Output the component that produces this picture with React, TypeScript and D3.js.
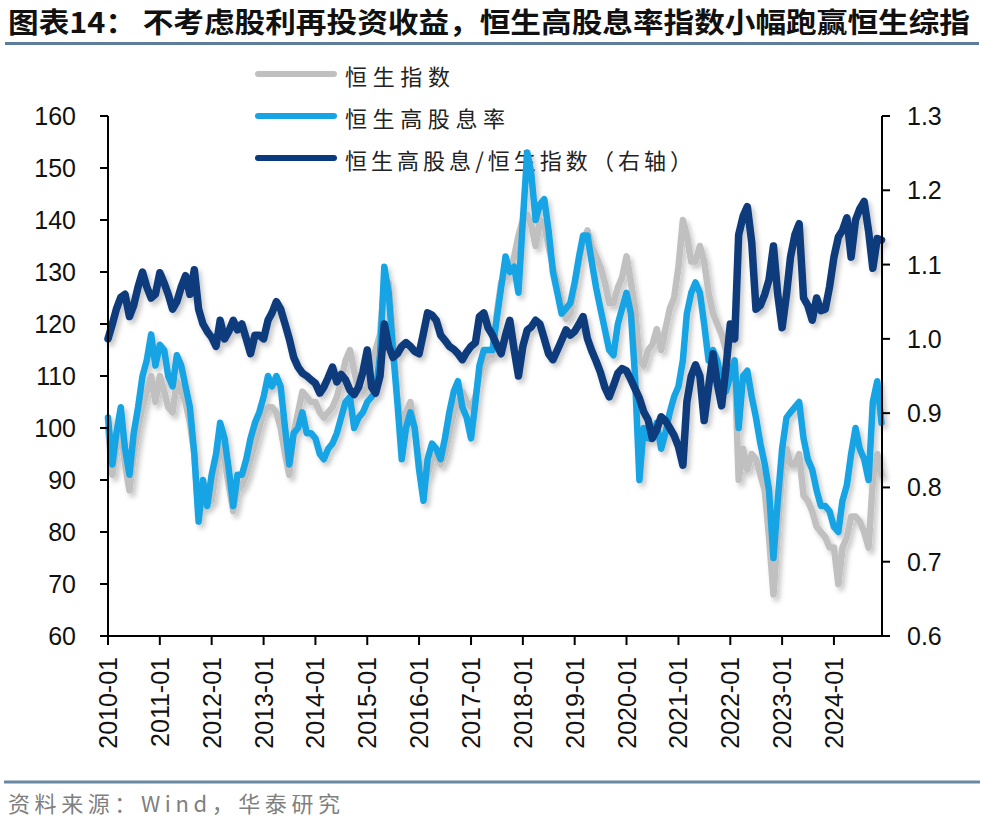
import React from "react";
import * as d3 from "d3";

// ---- data (monthly, 2010-01 .. 2024-12) ----
const firstMonth = new Date(2010, 0, 1);
const lastMonthExclusive = new Date(2025, 0, 1);

const hsiIndex = [
  100, 91, 96, 100, 93, 88, 95, 100, 104, 107, 110, 105,
  110, 107, 104, 103, 109, 107, 105, 101, 95, 83, 86, 87,
  86, 92, 97, 94, 89, 84, 88, 89, 91, 94, 97, 100,
  103, 104, 104, 103, 100, 95, 91, 99, 103, 107, 106, 105,
  105, 103, 102, 103, 104, 106, 109, 113, 115, 111, 107, 107,
  108, 112, 115, 118, 128, 128, 118, 106, 100, 103, 105, 100,
  94, 89, 91, 94, 95, 93, 95, 99, 103, 105, 107, 105,
  104, 106, 110, 113, 114, 114, 122, 128, 129, 130, 133, 137,
  140, 141, 139, 135, 140, 139, 135, 131, 128, 124, 121, 122,
  127, 132, 136, 138, 135, 133, 131, 128, 124, 124, 127, 129,
  133, 128, 123, 113, 112, 115, 116, 119, 115, 119, 123, 125,
  131, 140, 137, 132, 132, 135, 132, 126, 122, 120, 118, 115,
  112, 112, 90, 96, 92, 95, 94, 91, 88, 79, 68, 80,
  92, 96, 93, 93, 95, 87, 86, 84, 81, 80, 79, 77,
  77, 70, 77, 79, 83, 83, 82, 80, 77, 90, 95, 91,
];

const hsHighDividend = [
  102, 93, 99, 104, 96, 91, 99, 104, 110, 113, 118, 112,
  116, 115, 110, 108, 114, 112, 108, 104, 95, 82, 90, 85,
  91, 95, 101, 98, 92, 85, 91, 91, 94, 98, 101, 103,
  106, 110, 108, 110, 108, 100, 93, 99, 100, 103, 99, 99,
  98, 95, 94, 96, 97, 99, 102, 105, 106, 100, 102, 103,
  105, 106, 107, 114, 131, 126, 115, 105, 94, 100, 103, 100,
  92, 86, 94, 97, 96, 94, 98, 103, 107, 109, 104, 102,
  98, 105, 112, 115, 115, 115, 121, 127, 133, 130, 131, 126,
  140, 153, 149, 140, 143, 144, 138, 130, 126, 122, 123, 124,
  128, 133, 137, 137, 132, 127, 123, 119, 115, 114, 120, 123,
  126, 122, 110, 90, 100, 98, 98, 101, 96, 99, 103, 106,
  108, 113, 122, 126, 128, 126, 120, 113, 115, 113, 109, 107,
  110, 113, 100, 110, 111, 106, 102, 97, 93, 88, 75, 86,
  96, 102, 103, 104, 105, 98, 94, 92, 88, 85, 85, 84,
  81, 80, 86, 89, 95, 100, 96, 94, 90, 105, 109, 101,
];

const ratioRight = [
  1.0, 1.02, 1.04, 1.056, 1.06, 1.03, 1.045, 1.07, 1.09, 1.07, 1.055, 1.06,
  1.089, 1.075, 1.06, 1.04, 1.05, 1.07, 1.085, 1.06, 1.093, 1.04, 1.02, 1.01,
  1.002, 0.99, 1.025, 1.0, 1.01, 1.025, 1.012, 1.02, 1.0, 0.98, 1.005, 1.005,
  1.0, 1.025, 1.035, 1.05, 1.04, 1.02, 1.0, 0.975, 0.962, 0.954, 0.95, 0.945,
  0.94, 0.927, 0.935, 0.948, 0.962, 0.942, 0.952, 0.945, 0.931, 0.925, 0.935, 0.955,
  0.985, 0.935, 0.927, 0.95, 1.02, 0.99, 0.975, 0.98, 0.99, 0.995, 0.99, 0.983,
  0.98, 1.008, 1.035, 1.032, 1.025, 1.005, 0.998, 0.99, 0.986, 0.98, 0.972, 0.982,
  0.99, 0.995, 1.03, 1.035, 1.015, 1.005, 0.992, 0.98, 1.005, 1.025, 0.985, 0.95,
  0.99, 1.012, 1.016, 1.025, 1.02, 1.0, 0.98, 0.972, 0.985, 0.998, 1.012, 1.005,
  1.01, 1.02, 1.03, 1.0, 0.984, 0.97, 0.955, 0.935, 0.922, 0.937, 0.954, 0.96,
  0.957, 0.945, 0.933, 0.92, 0.902, 0.891, 0.866, 0.878, 0.895, 0.89, 0.88, 0.87,
  0.855, 0.83, 0.915, 0.95, 0.965, 0.95, 0.89, 0.935, 0.98, 0.94, 0.91, 0.96,
  1.02, 1.0, 1.14, 1.165, 1.178, 1.13, 1.04, 1.045, 1.06, 1.08, 1.125, 1.06,
  1.015, 1.06, 1.11, 1.14, 1.155, 1.055, 1.045, 1.025, 1.055, 1.038, 1.04, 1.07,
  1.11, 1.137, 1.146, 1.163, 1.11, 1.16, 1.175, 1.185, 1.145, 1.095, 1.135, 1.133,
];

const xTickLabels = [
  "2010-01", "2011-01", "2012-01", "2013-01", "2014-01", "2015-01", "2016-01", "2017-01",
  "2018-01", "2019-01", "2020-01", "2021-01", "2022-01", "2023-01", "2024-01",
];
const leftTicks = [60, 70, 80, 90, 100, 110, 120, 130, 140, 150, 160];
const rightTicks = [0.6, 0.7, 0.8, 0.9, 1.0, 1.1, 1.2, 1.3];
const legendLabels = ["恒生指数", "恒生高股息率", "恒生高股息/恒生指数（右轴）"];
const titleLead = "图表14：";
const titleMain = "不考虑股利再投资收益，恒生高股息率指数小幅跑赢恒生综指";
const sourceText = "资料来源：Wind，华泰研究";

// ---- styles ----
const W = 982;
const H = 826;
const plot = { left: 108, right: 882, top: 116, bottom: 636 };
const colors = { gray: "#C0C0C0", light: "#16A4E4", dark: "#0B3A7C" };
const numFont = "'Liberation Sans', Arial, sans-serif";
const cjkFont = "'Noto Sans CJK SC', 'Noto Sans', sans-serif";

export default function App() {
  const months = d3.timeMonth.range(firstMonth, lastMonthExclusive);
  const x = d3
    .scaleTime()
    .domain([firstMonth, months[months.length - 1]])
    .range([plot.left, plot.right - 0.5]);
  const yL = d3.scaleLinear().domain([60, 160]).range([plot.bottom, plot.top]);
  const yR = d3.scaleLinear().domain([0.6, 1.3]).range([plot.bottom, plot.top]);

  const lineL = d3
    .line<number>()
    .x((_, i) => x(months[i]))
    .y((d) => yL(d))
    .curve(d3.curveLinear);
  const lineR = d3
    .line<number>()
    .x((_, i) => x(months[i]))
    .y((d) => yR(d))
    .curve(d3.curveLinear);

  const xTickDates = xTickLabels.map((s) => d3.timeParse("%Y-%m")(s) as Date);

  const legendRows = [
    { y: 74, color: colors.gray, len: 105 },
    { y: 116, color: colors.light, len: 160 },
    { y: 158, color: colors.dark, len: 347 },
  ];

  return (
    <svg
      width={W}
      height={H}
      viewBox={`0 0 ${W} ${H}`}
      style={{ position: "absolute", left: 0, top: 0, display: "block", background: "#fff" }}
    >
      <defs>
        <filter id="shadow" filterUnits="userSpaceOnUse" x={0} y={0} width={W} height={H}>
          <feDropShadow dx={3} dy={4} stdDeviation={2.5} floodColor="#000" floodOpacity={0.22} />
        </filter>
      </defs>
      <rect x={0} y={0} width={W} height={H} fill="#fff" />

      {/* title */}
      <text
        x={8}
        y={33}
        fontFamily={cjkFont}
        fontWeight={700}
        fontSize={28}
        fill="#111"
        textLength={962}
        lengthAdjust="spacingAndGlyphs"
      >
        <tspan>{titleLead}</tspan>
        <tspan dx={6}>{titleMain}</tspan>
      </text>
      <line x1={5} x2={979} y1={43.5} y2={43.5} stroke="#5E7D9B" strokeWidth={3} />

      {/* legend (drawn under the lines) */}
      {legendLabels.map((lab, i) => (
        <g key={lab}>
          <line
            x1={258}
            x2={334}
            y1={legendRows[i].y}
            y2={legendRows[i].y}
            stroke={legendRows[i].color}
            strokeWidth={6}
            strokeLinecap="round"
          />
          <text
            x={345}
            y={legendRows[i].y + 1}
            dominantBaseline="central"
            fontFamily={cjkFont}
            fontSize={22}
            fill="#222"
            textLength={legendRows[i].len}
            lengthAdjust="spacing"
          >
            {lab}
          </text>
        </g>
      ))}

      {/* series */}
      <g filter="url(#shadow)" fill="none" strokeLinejoin="round" strokeLinecap="round">
        <path d={lineL(hsiIndex) || ""} stroke={colors.gray} strokeWidth={6.5} />
        <path d={lineL(hsHighDividend) || ""} stroke={colors.light} strokeWidth={6.5} />
        <path d={lineR(ratioRight) || ""} stroke={colors.dark} strokeWidth={7.5} />
      </g>

      {/* left axis */}
      <line x1={plot.left} x2={plot.left} y1={plot.top} y2={plot.bottom} stroke="#000" strokeWidth={2} />
      {leftTicks.map((t) => (
        <g key={"l" + t}>
          <line x1={plot.left - 8} x2={plot.left} y1={yL(t)} y2={yL(t)} stroke="#000" strokeWidth={2} />
          <text
            x={76}
            y={yL(t)}
            textAnchor="end"
            dominantBaseline="central"
            fontFamily={numFont}
            fontSize={25}
            fill="#111"
          >
            {t}
          </text>
        </g>
      ))}

      {/* right axis */}
      <line x1={plot.right} x2={plot.right} y1={plot.top} y2={plot.bottom} stroke="#000" strokeWidth={2} />
      {rightTicks.map((t) => (
        <g key={"r" + t}>
          <line x1={plot.right} x2={plot.right + 8} y1={yR(t)} y2={yR(t)} stroke="#000" strokeWidth={2} />
          <text
            x={907}
            y={yR(t)}
            textAnchor="start"
            dominantBaseline="central"
            fontFamily={numFont}
            fontSize={25}
            fill="#111"
          >
            {t.toFixed(1)}
          </text>
        </g>
      ))}

      {/* x axis */}
      <line x1={plot.left - 8} x2={plot.right + 8} y1={plot.bottom} y2={plot.bottom} stroke="#000" strokeWidth={2} />
      {xTickDates.map((d, i) => (
        <g key={xTickLabels[i]}>
          <line x1={x(d)} x2={x(d)} y1={plot.bottom} y2={plot.bottom + 9} stroke="#000" strokeWidth={2} />
          <text
            transform={`translate(${x(d)},657) rotate(-90)`}
            textAnchor="end"
            dy="0.36em"
            fontFamily={numFont}
            fontSize={25}
            fill="#111"
          >
            {xTickLabels[i]}
          </text>
        </g>
      ))}

      {/* footer */}
      <line x1={4} x2={980} y1={782} y2={782} stroke="#6A87A3" strokeWidth={3} />
      <text
        x={8}
        y={812}
        fontFamily={cjkFont}
        fontSize={22}
        fill="#7F7F7F"
        textLength={332}
        lengthAdjust="spacing"
      >
        {sourceText}
      </text>
    </svg>
  );
}
